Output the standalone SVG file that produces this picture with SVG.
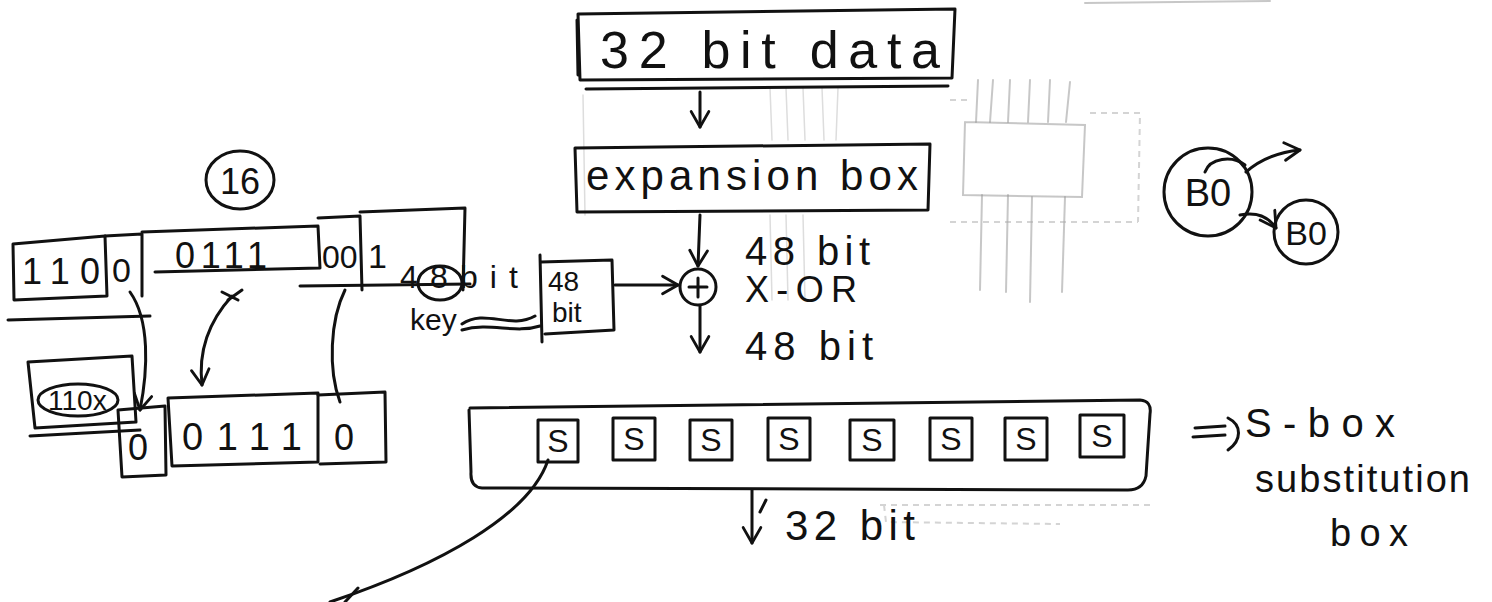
<svg xmlns="http://www.w3.org/2000/svg" width="1492" height="602" viewBox="0 0 1492 602">
<defs>
<style>
.s{fill:none;stroke:#111;stroke-width:3;stroke-linecap:round;stroke-linejoin:round}
.f{fill:none;stroke:#999;stroke-width:2;stroke-linecap:round;opacity:.55}
.fl{fill:none;stroke:#aaa;stroke-width:1.5;stroke-linecap:round;opacity:.4}
.fd{fill:none;stroke:#aaa;stroke-width:2;stroke-dasharray:6 5;opacity:.5}
.t{font-family:"Liberation Sans","DejaVu Sans",sans-serif;fill:#111}
.ts{font-family:"Liberation Sans","DejaVu Sans",sans-serif;fill:#111;font-size:32px;text-anchor:middle}
</style>
<marker id="ah" viewBox="0 0 20 20" refX="17" refY="10" markerWidth="22" markerHeight="22" markerUnits="userSpaceOnUse" orient="auto">
<path d="M3,2 L17,10 L3,18" fill="none" stroke="#111" stroke-width="2.6" stroke-linecap="round" stroke-linejoin="round"/>
</marker>
</defs>
<rect width="1492" height="602" fill="#fff"/>

<g id="showthrough">
<path class="f" d="M978,80 L976,122 M993,80 L990,122 M1010,80 L1008,122 M1030,80 L1028,122 M1050,80 L1048,122 M1070,82 L1066,122"/>
<path class="f" d="M965,122 L963,195 L1082,197 L1085,125 L965,122"/>
<path class="f" d="M982,195 L980,290 M1008,195 L1006,292 M1032,197 L1030,302 M1065,197 L1062,292"/>
<path class="fd" d="M1090,113 L1140,113 L1138,222 M950,222 L1138,222 M950,100 L972,100"/>
<path class="fl" d="M770,88 L772,140 M786,88 L788,140 M803,88 L805,140 M822,88 L824,140 M838,88 L836,140 M770,215 L772,300 M786,215 L788,300 M803,215 L805,300 M583,95 L585,215"/>
<path class="fd" d="M880,505 L1150,505 M884,505 L886,522 L1060,524"/>
<path class="f" d="M1085,3 L1270,1"/>
</g>

<g id="connectors">
<line class="s" x1="700" y1="92" x2="700" y2="127" marker-end="url(#ah)"/>
<line class="s" x1="700" y1="215" x2="698" y2="266" marker-end="url(#ah)"/>
<line class="s" x1="615" y1="285" x2="678" y2="285" marker-end="url(#ah)"/>
<line class="s" x1="700" y1="306" x2="700" y2="352" marker-end="url(#ah)"/>
<line class="s" x1="752" y1="490" x2="752" y2="543" marker-end="url(#ah)"/>
<path class="s" d="M760,512 L766,500"/>
<path class="s" d="M548,460 C530,515 440,565 330,602"/>
<path class="s" d="M345,602 L358,588"/>
<path class="s" d="M130,292 C150,320 148,370 140,410" marker-end="url(#ah)"/>
<path class="s" d="M232,296 C210,320 198,350 202,385" marker-end="url(#ah)"/>
<path class="s" d="M222,292 L238,300 M228,300 L242,290"/>
<path class="s" d="M345,290 C330,320 328,370 340,402"/>
<path class="s" d="M1246,172 C1262,158 1280,152 1300,150" marker-end="url(#ah)"/>
<path class="s" d="M1205,172 C1210,158 1232,155 1245,165"/>
<path class="s" d="M1240,215 C1255,212 1268,216 1276,228" marker-end="url(#ah)"/>
<path class="s" d="M1195,428 L1225,426 M1193,437 L1225,435 M1228,418 C1242,425 1242,440 1228,450"/>
</g>

<g id="data32">
<path class="s" d="M578,14 L955,9 L952,78 L580,80 Z M577,20 L578,75"/>
<path class="s" d="M586,89 L948,86"/>
<text class="t" x="600" y="68" font-size="52" textLength="340" lengthAdjust="spacing">32 bit data</text>
</g>

<g id="expansion">
<path class="s" d="M575,148 L930,144 L928,210 L577,212 Z"/>
<text class="t" x="586" y="190" font-size="42" textLength="332" lengthAdjust="spacing">expansion box</text>
</g>

<g id="xor">
<circle class="s" cx="698" cy="287" r="18"/>
<path class="s" d="M689,287 L707,287 M698,278 L698,297"/>
<text class="t" x="745" y="265" font-size="40" textLength="125" lengthAdjust="spacing">48 bit</text>
<text class="t" x="745" y="302" font-size="36" textLength="112" lengthAdjust="spacing">X-OR</text>
<text class="t" x="745" y="360" font-size="40" textLength="128" lengthAdjust="spacing">48 bit</text>
</g>

<g id="key48">
<path class="s" d="M541,262 L612,260 L614,330 L545,334 M540,255 L542,342"/>
<text class="t" x="548" y="291" font-size="28">48</text>
<text class="t" x="552" y="322" font-size="28">bit</text>
</g>

<g id="keylabel">
<text class="t" x="400" y="288" font-size="32" textLength="118" lengthAdjust="spacing">48bit</text>
<ellipse class="s" cx="440" cy="283" rx="22" ry="17"/>
<text class="t" x="410" y="330" font-size="30">key</text>
<path class="s" d="M462,324 C485,308 510,330 535,316 M462,330 C490,322 515,334 540,326"/>
</g>

<g id="register">
<path class="s" d="M13,244 L105,236 L107,296 L14,300 Z"/>
<path class="s" d="M105,236 L142,234 L142,296"/>
<path class="s" d="M142,232 L318,226 L320,268 L155,272"/>
<path class="s" d="M318,218 L360,216 L362,290 M360,212 L465,208 L463,290"/>
<path class="s" d="M300,286 L470,284"/>
<path class="s" d="M8,320 L150,316"/>
<text class="t" x="22" y="284" font-size="36" textLength="78" lengthAdjust="spacing">110</text>
<text class="t" x="112" y="282" font-size="34">0</text>
<text class="t" x="175" y="268" font-size="36" textLength="92" lengthAdjust="spacing">0111</text>
<text class="t" x="322" y="268" font-size="32">00</text>
<text class="t" x="368" y="268" font-size="34">1</text>
</g>

<g id="circle16">
<ellipse class="s" cx="240" cy="180" rx="34" ry="29"/>
<text class="t" x="240" y="194" font-size="36" text-anchor="middle">16</text>
</g>

<g id="scribblebox">
<path class="s" d="M28,362 L132,356 L136,422 L35,428 Z"/>
<ellipse class="s" cx="78" cy="400" rx="40" ry="16"/>
<text class="t" x="48" y="410" font-size="28">110x</text>
<path class="s" d="M30,436 L140,430"/>
</g>

<g id="lowerrow">
<path class="s" d="M118,410 L165,406 L166,475 L122,477 Z"/>
<path class="s" d="M168,398 L318,393 L318,462 L172,466 Z"/>
<path class="s" d="M318,395 L385,392 L386,462 L320,464"/>
<text class="t" x="128" y="460" font-size="36">0</text>
<text class="t" x="182" y="450" font-size="38" textLength="120" lengthAdjust="spacing">0111</text>
<text class="t" x="334" y="450" font-size="36">0</text>
</g>

<g id="sbox">
<path class="s" d="M470,408 L1140,400 Q1152,401 1150,414 L1146,476 Q1143,490 1128,490 L482,488 Q470,487 471,472 L469,410"/>
<rect class="s" x="538" y="420" width="40" height="42"/>
<rect class="s" x="613" y="418" width="42" height="42"/>
<rect class="s" x="690" y="420" width="42" height="40"/>
<rect class="s" x="768" y="418" width="42" height="42"/>
<rect class="s" x="850" y="420" width="44" height="40"/>
<rect class="s" x="930" y="418" width="42" height="42"/>
<rect class="s" x="1005" y="418" width="42" height="42"/>
<rect class="s" x="1080" y="415" width="44" height="42"/>
<text class="ts" x="558" y="452">S</text>
<text class="ts" x="634" y="450">S</text>
<text class="ts" x="711" y="451">S</text>
<text class="ts" x="789" y="450">S</text>
<text class="ts" x="872" y="451">S</text>
<text class="ts" x="951" y="450">S</text>
<text class="ts" x="1026" y="450">S</text>
<text class="ts" x="1102" y="447">S</text>
</g>

<g id="out32">
<text class="t" x="785" y="540" font-size="42" textLength="130" lengthAdjust="spacing">32 bit</text>
</g>

<g id="sboxlabel">
<text class="t" x="1245" y="437" font-size="40" textLength="150" lengthAdjust="spacing">S-box</text>
<text class="t" x="1255" y="492" font-size="38" textLength="215" lengthAdjust="spacing">substitution</text>
<text class="t" x="1330" y="546" font-size="38" textLength="78" lengthAdjust="spacing">box</text>
</g>

<g id="b0big">
<circle class="s" cx="1208" cy="192" r="44"/>
<text class="t" x="1208" y="206" font-size="38" text-anchor="middle">B0</text>
</g>
<g id="b0small">
<circle class="s" cx="1306" cy="232" r="32"/>
<text class="t" x="1306" y="245" font-size="34" text-anchor="middle">B0</text>
</g>
</svg>
